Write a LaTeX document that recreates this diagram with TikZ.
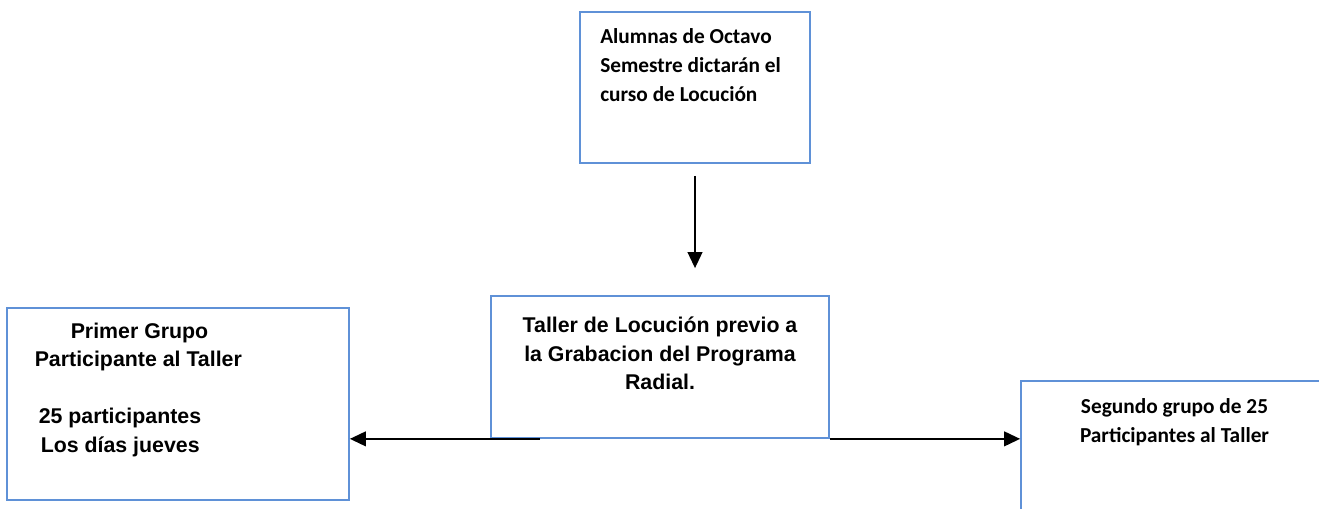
\documentclass[tikz,border=0pt]{standalone}
\usepackage{fontspec}
\setmainfont{Liberation Sans}
\newfontfamily\calibri{Carlito}
\usepackage{xcolor}
\usetikzlibrary{arrows.meta, positioning}
\definecolor{bordeazul}{RGB}{95,145,215}

\begin{document}
\begin{tikzpicture}[
    x=0.75pt, y=-0.75pt,
    caja/.style={draw=bordeazul, line width=1.3pt, inner sep=0pt},
    texto/.style={inner sep=0pt, font=\fontsize{16pt}{21.4pt}\selectfont\bfseries},
    textocal/.style={inner sep=0pt, font=\calibri\fontsize{16pt}{21.75pt}\selectfont\bfseries},
    flecha/.style={-{Triangle[length=12pt, width=11pt]}, line width=1.5pt, black},
]
\useasboundingbox (0,0) rectangle (1319,509);
\clip (0,0) rectangle (1319,509);

% Cajas
\node[caja, minimum width=172.5pt, minimum height=113.25pt] (alumnas) at (695,87.5) {};
\node[caja, minimum width=253.5pt, minimum height=106.5pt] (taller) at (660,367) {};
\node[caja, minimum width=256.5pt, minimum height=144pt] (primer) at (178,404) {};
\node[caja, minimum width=230.25pt, minimum height=134.25pt] (segundo) at (1174.5,470.5) {};

% Textos
\node[textocal, anchor=north west, align=left] (alumnastxt) at (600,28) {Alumnas de Octavo\\Semestre dictarán el\\curso de Locución};
\node[texto, anchor=north, align=center] (tallertxt) at (660,317) {Taller de Locución previo a\\la Grabacion del Programa\\Radial.};
\node[texto, anchor=north west, align=left] (primertxt) at (34.5,322.5) {\hspace*{27pt}Primer Grupo\\Participante al Taller\\[21.4pt]\hspace*{3pt}25 participantes\\\hspace*{4.5pt}Los días jueves};
\node[textocal, anchor=north, align=center] (segundotxt) at (1174.5,398) {Segundo grupo de 25\\Participantes al Taller};

% Flechas
\draw[flecha, shorten <=9pt, shorten >=20.25pt] (alumnas.south) -- (alumnas.south |- taller.north);
\draw[flecha] ([xshift=37.5pt]taller.south west) -- (taller.south west -| primer.east);
\draw[flecha] (taller.south east) -- (taller.south east -| segundo.west);

\end{tikzpicture}
\end{document}
